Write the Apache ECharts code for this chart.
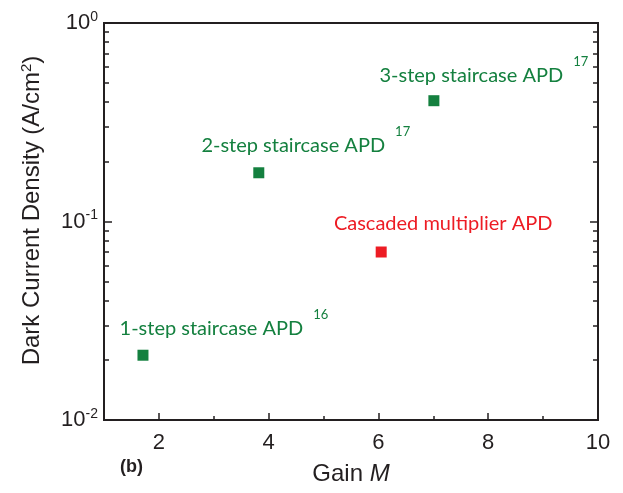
<!DOCTYPE html>
<html><head><meta charset="utf-8">
<script src="https://cdn.jsdelivr.net/npm/echarts@6/dist/echarts.min.js"></script>
<style>html,body{margin:0;padding:0;background:#fff}#c{width:623px;height:493px}</style>
</head><body><div id="c"></div>
<script>
// ---- data ----
const gainValues = [1.71, 3.82, 7.01];
const greenDensity = [0.0212, 0.176, 0.406];
const greenLabels = ['1-step staircase APD', '2-step staircase APD', '3-step staircase APD'];
const greenRefs = ['16', '17', '17'];
const redGain = [6.05];
const redDensity = [0.0702];
const redLabels = ['Cascaded multiplier APD'];
const xMajorTicks = [2, 4, 6, 8, 10];
const xMinorTicks = [3, 5, 7, 9];
const yMajorTicks = [0.01, 0.1, 1];
const yMinorTicks = [0.02,0.03,0.04,0.05,0.06,0.07,0.08,0.09,0.2,0.3,0.4,0.5,0.6,0.7,0.8,0.9];
const yExponents = {'0.01': '-2', '0.1': '-1', '1': '0'};

const green = '#14803f';
const red = '#ed1c24';
const ink = '#231f20';
const labelOffsets = [[81, -27], [47, -27], [50, -25]];

const chart = echarts.init(document.getElementById('c'));
const axisFont = 'Liberation Sans, Arial, sans-serif';
const annFont = 'Lato, Carlito, sans-serif';

function yAxisDef(pos, ticks, len, showLabel) {
  return {
    type: 'log', min: 0.01, max: 1, logBase: 10, position: pos,
    axisLine: {show: true, onZero: false, lineStyle: {color: ink, width: 2}},
    axisTick: {show: true, inside: true, length: len, customValues: ticks, lineStyle: {color: ink, width: 1.5}},
    splitLine: {show: false},
    axisLabel: showLabel ? {
      show: true, customValues: yMajorTicks, margin: 6,
      formatter: v => '{b|10}{s|' + yExponents[String(+v.toPrecision(3))] + '}',
      rich: {b: {fontSize: 22, fontFamily: axisFont, color: ink}, s: {fontSize: 14, fontFamily: axisFont, color: ink, padding: [0, 0, 12, 0]}}
    } : {show: false}
  };
}

const option = {
  animation: false,
  grid: {left: 104, right: 25, top: 23, bottom: 73},
  xAxis: [
    {type: 'value', min: 1, max: 10, position: 'bottom',
     axisLine: {show: true, onZero: false, lineStyle: {color: ink, width: 2}},
     axisTick: {show: true, inside: true, length: 7, customValues: xMajorTicks, lineStyle: {color: ink, width: 1.5}},
     splitLine: {show: false},
     axisLabel: {customValues: xMajorTicks, margin: 12, fontSize: 22, fontFamily: axisFont, color: ink},
     name: '{n|Gain }{i|M}', nameLocation: 'middle', nameGap: 42,
     nameTextStyle: {rich: {n: {fontSize: 24, fontFamily: axisFont, color: ink}, i: {fontSize: 24, fontFamily: axisFont, fontStyle: 'italic', color: ink}}}},
    {type: 'value', min: 1, max: 10, position: 'bottom',
     axisLine: {show: false},
     axisTick: {show: true, inside: true, length: 4, customValues: xMinorTicks, lineStyle: {color: ink, width: 1.5}},
     splitLine: {show: false}, axisLabel: {show: false}},
    {type: 'value', min: 1, max: 10, position: 'top',
     axisLine: {show: true, onZero: false, lineStyle: {color: ink, width: 2}},
     axisTick: {show: false}, splitLine: {show: false}, axisLabel: {show: false}}
  ],
  yAxis: [
    Object.assign(yAxisDef('left', yMajorTicks, 8, true), {
      name: '{n|Dark Current Density (A/cm}{s|2}{n|)}', nameLocation: 'middle', nameGap: 58, nameRotate: 90,
      nameTextStyle: {padding: [0, 0, 0, 22], rich: {n: {fontSize: 24, fontFamily: axisFont, color: ink}, s: {fontSize: 15, fontFamily: axisFont, color: ink, padding: [0, 0, 12, 0]}}}
    }),
    yAxisDef('left', yMinorTicks, 5, false),
    yAxisDef('right', yMajorTicks, 8, false),
    yAxisDef('right', yMinorTicks, 5, false)
  ],
  series: [
    {type: 'scatter', xAxisIndex: 0, yAxisIndex: 0, symbol: 'rect', symbolSize: 11,
     itemStyle: {color: green, opacity: 1},
     data: gainValues.map((g, i) => ({
       value: [g, greenDensity[i]],
       label: {show: true, position: 'inside', offset: labelOffsets[i],
         formatter: '{t|' + greenLabels[i] + '}{g| }{s|' + greenRefs[i] + '}',
         rich: {t: {fontSize: 20, fontFamily: annFont, color: green}, g: {width: 10}, s: {fontSize: 13, fontFamily: annFont, color: green, padding: [0, 0, 27, 0]}}}
     }))},
    {type: 'scatter', xAxisIndex: 0, yAxisIndex: 0, symbol: 'rect', symbolSize: 11,
     itemStyle: {color: red, opacity: 1},
     data: redGain.map((g, i) => ({
       value: [g, redDensity[i]],
       label: {show: true, position: 'inside', offset: [62, -28],
         formatter: redLabels[i], fontSize: 20, fontFamily: annFont, color: red}
     }))}
  ],
  graphic: [
    {type: 'text', left: 120, top: 458, style: {text: '(b)', font: 'bold 18px ' + axisFont, fill: ink}}
  ]
};
chart.setOption(option);
</script></body></html>
